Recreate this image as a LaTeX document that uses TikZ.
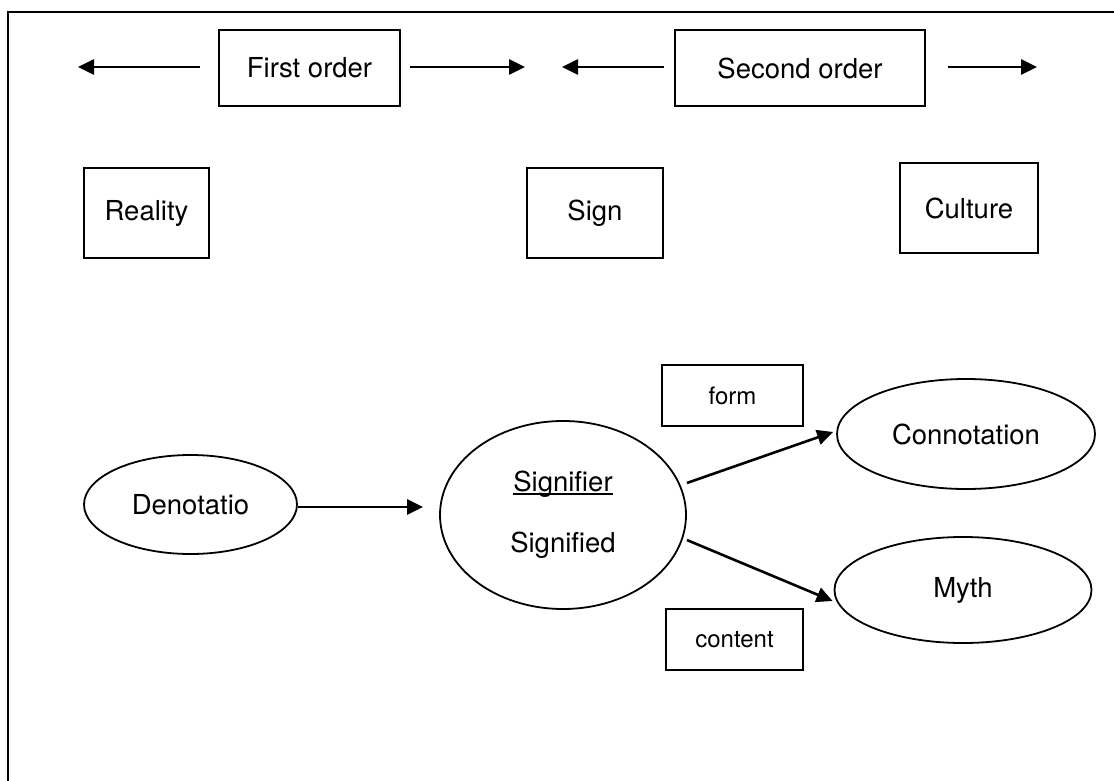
\documentclass[tikz,border=0pt]{standalone}
\usepackage{fontspec}
\setmainfont{TeX Gyre Heros}
\usetikzlibrary{arrows.meta,shapes.geometric}
\newcommand\ulbase[1]{\setbox0\hbox{#1}\rlap{\rule[-3pt]{\wd0}{1.3pt}}\box0}
\tikzset{
  bigtxt/.style={font=\fontsize{27.5}{33}\selectfont},
  smalltxt/.style={font=\fontsize{24}{29}\selectfont},
  boxnode/.style={draw, line width=1.7pt, rectangle, inner sep=0pt, bigtxt},
  smallbox/.style={draw, line width=1.7pt, rectangle, inner sep=0pt, smalltxt},
  ellnode/.style={draw, line width=1.8pt, ellipse, inner sep=0pt, bigtxt},
  arr/.style={line width=2.6pt, -{Triangle[length=16pt,width=15pt]}},
}
\begin{document}
\begin{tikzpicture}[x=1pt,y=-1pt]
\useasboundingbox (0,0) rectangle (1114,781);
% outer frame (only left and top edges visible)
\draw[line width=2pt] (8,781) -- (8,12) -- (1114,12);

% top row
\node[boxnode, minimum width=181pt, minimum height=76pt] (first) at (309.5,68) {First order};
\node[boxnode, minimum width=250pt, minimum height=76pt] (second) at (800,68) {Second order};
\coordinate (t1) at (78,67);
\coordinate (t2) at (525,67);
\coordinate (t3) at (562,67);
\coordinate (t4) at (1037,67);
\draw[arr, shorten <=18pt] (first.west |- t1) -- (t1);
\draw[arr, shorten <=9pt] (first.east |- t2) -- (t2);
\draw[arr, shorten <=10pt] (second.west |- t3) -- (t3);
\draw[arr, shorten <=22pt] (second.east |- t4) -- (t4);

% second row
\node[boxnode, minimum width=125pt, minimum height=90pt] (reality) at (146.5,213) {Reality};
\node[boxnode, minimum width=136pt, minimum height=90pt] (sign) at (595,213) {Sign};
\node[boxnode, minimum width=138pt, minimum height=90pt] (culture) at (969,208) {Culture};

% bottom part
\node[ellnode, minimum width=213pt, minimum height=99pt] (den) at (190.5,504.5) {Denotatio};
\node[ellnode, minimum width=246pt, minimum height=188pt, align=center] (sig) at (563,515)
  {\ulbase{Signifier}\\[28pt]Signified};
\node[ellnode, minimum width=258pt, minimum height=110pt] (conn) at (966,434) {Connotation};
\node[ellnode, minimum width=257pt, minimum height=106pt] (myth) at (963,590) {Myth};
\node[smallbox, minimum width=141pt, minimum height=61pt] (form) at (732.5,395.5) {form};
\node[smallbox, minimum width=137pt, minimum height=61pt] (content) at (734.5,639.5) {content};

\draw[arr, shorten >=16pt] ([yshift=-2.5pt]den.east) -- ([yshift=-2.5pt]den.east -| sig.west);
\draw[arr] ([yshift=32pt]sig.east) -- ([shift={(-3pt,2pt)}]conn.west);
\draw[arr] ([yshift=-25pt]sig.east) -- ([shift={(-1pt,-11pt)}]myth.west);
\end{tikzpicture}
\end{document}
